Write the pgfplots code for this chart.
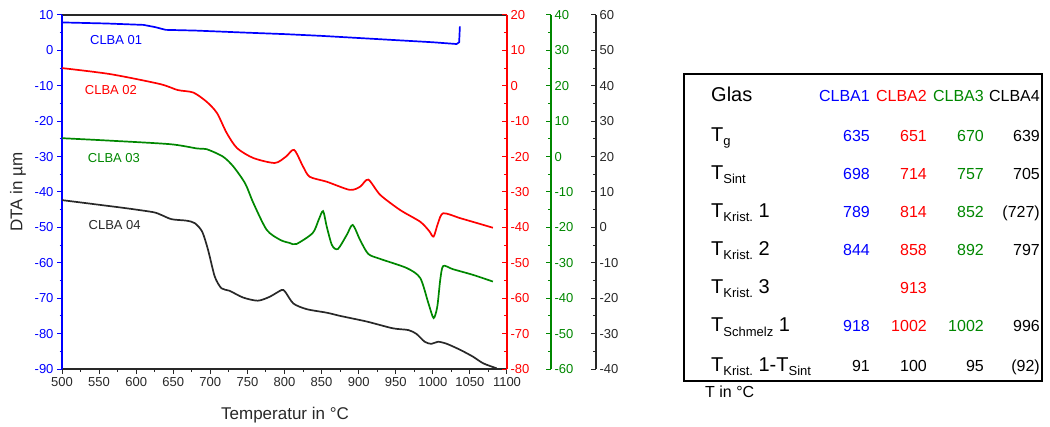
\documentclass[border=0pt]{standalone}
\usepackage{fontspec}
\setmainfont{Liberation Sans}
\usepackage{pgfplots}
\pgfplotsset{compat=1.18}
\definecolor{cblue}{RGB}{0,0,255}
\definecolor{cred}{RGB}{255,0,0}
\definecolor{cgreen}{RGB}{0,135,0}
\definecolor{cgray}{RGB}{40,40,40}
\newcommand{\sub}[1]{\raisebox{-4pt}{\fontsize{13}{13}\selectfont #1}}
\pgfplotsset{
  base/.style={scale only axis, width=445pt, height=354pt, xmin=500, xmax=1100,
    at={(62pt,57pt)}, anchor=south west,
    /pgf/number format/assume math mode=true,
    /pgf/number format/set thousands separator={},
    tick label style={font=\fontsize{13}{13}\selectfont},
    major tick length=5pt, minor tick length=2.5pt},
  rax/.style={base, axis x line=none, axis y line*=right, ytick align=inside,
    minor y tick num=1,
    y axis line style={#1, line width=1.5pt},
    every y tick/.style={#1, line width=1pt},
    yticklabel style={#1}},
}
\begin{document}
\begin{tikzpicture}[x=1pt,y=1pt]
\path[use as bounding box] (0,0) rectangle (1050,426);

% ---------- main axis (CLBA 01, left scale) ----------
\begin{axis}[base, ymin=-90, ymax=10, ytick={-90,-80,...,10},
  xtick={500,550,...,1100}, minor x tick num=1, minor y tick num=1,
  xtick pos=left, ytick pos=left, tick align=outside,
  separate axis lines,
  x axis line style={cgray, line width=1.3pt},
  y axis line style={cblue, line width=1.5pt},
  every y tick/.style={cblue, line width=1pt},
  every x tick/.style={cgray, line width=1pt},
  yticklabel style={cblue}, xticklabel style={cgray}]
\addplot[cblue, line width=1.7pt] coordinates {
 (500,7.9) (560,7.6) (610,7.2) (625,6.6) (640,5.8) (680,5.6) (750,5.0) (800,4.6)
 (850,4.1) (900,3.5) (950,2.9) (1000,2.3) (1032,1.8) (1035.5,2.3) (1036.5,6.8)};
\node[cblue, font=\fontsize{13}{13}\selectfont] at (axis cs:573,2.9) {CLBA 01};
\node[cred, font=\fontsize{13}{13}\selectfont] at (axis cs:566,-11.2) {CLBA 02};
\node[cgreen, font=\fontsize{13}{13}\selectfont] at (axis cs:570,-30.4) {CLBA 03};
\node[cgray, font=\fontsize{13}{13}\selectfont] at (axis cs:571,-49.3) {CLBA 04};
\end{axis}

% ---------- red scale (CLBA 02) ----------
\begin{axis}[rax=cred, ymin=-80, ymax=20, ytick={-80,-70,...,20}]
\addplot[cred, line width=1.7pt, smooth, tension=0.45] coordinates {
 (500,5.0) (565,3.3) (632,0.5) (656,-1.2) (677,-1.9) (695,-4.5) (709,-7.7)
 (722,-13.3) (736,-17.6) (758,-20.4) (787,-21.8) (802,-20.0) (813,-18.1)
 (825,-22.8) (834,-25.7) (857,-27.1) (888,-29.4) (902,-28.5) (913,-26.5)
 (929,-30.8) (956,-35.1) (983,-38.4) (995,-41.0) (1001,-42.6) (1007,-38.8)
 (1014,-36.0) (1037,-37.4) (1060,-38.8) (1081,-40.1)};
\end{axis}

% ---------- green data (CLBA 03) ----------
\begin{axis}[base, hide axis, ymin=-60, ymax=40]
\addplot[cgreen, line width=1.7pt, smooth, tension=0.45] coordinates {
 (500,5.2) (565,4.5) (646,3.5) (682,2.3) (695,2.1) (717,0.0) (731,-2.8)
 (747,-7.6) (758,-13.1) (776,-20.7) (794,-23.5) (807,-24.4) (816,-24.7)
 (838,-21.6) (846,-17.9) (852,-15.4) (857,-19.8) (864,-25.0) (872,-26.1)
 (884,-22.1) (892,-19.3) (902,-23.6) (913,-27.5) (929,-28.9) (965,-31.5)
 (983,-34.3) (994,-41.4) (1001,-45.6) (1006,-42.4) (1010,-34.8) (1014,-30.9)
 (1027,-31.8) (1054,-33.4) (1081,-35.3)};
\end{axis}
\begin{axis}[rax=cgreen, at={(106pt,57pt)}, ymin=-60, ymax=40, ytick={-60,-50,...,40}]
\addplot[draw=none] coordinates {(500,0)};
\end{axis}

% ---------- black data (CLBA 04) ----------
\begin{axis}[base, hide axis, ymin=-40, ymax=60]
\addplot[cgray, line width=1.7pt, smooth, tension=0.45] coordinates {
 (500,7.7) (542,6.6) (587,5.4) (623,4.3) (634,3.5) (648,2.3) (668,1.9)
 (679,1.2) (689,-1.2) (697,-6.4) (706,-13.9) (715,-17.2) (726,-17.9)
 (744,-19.8) (764,-20.7) (780,-19.6) (796,-17.7) (801,-18.2) (812,-21.5)
 (830,-23.1) (857,-24.1) (875,-25.0) (911,-26.6) (946,-28.5) (967,-29.0)
 (978,-30.1) (989,-32.3) (998,-32.9) (1007,-32.3) (1019,-32.9) (1037,-34.6)
 (1054,-36.5) (1068,-38.4) (1086,-39.8)};
\end{axis}
\begin{axis}[rax=cgray, at={(151pt,57pt)}, ymin=-40, ymax=60, ytick={-40,-30,...,60}]
\addplot[draw=none] coordinates {(500,0)};
\end{axis}

% ---------- axis titles ----------
\node[cgray, font=\fontsize{17}{17}\selectfont] at (285,11) {Temperatur in °C};
\node[cgray, font=\fontsize{17}{17}\selectfont, rotate=90] at (18,234) {DTA in µm};

% ---------- table ----------
\draw[black, line width=1.5pt] (684,352) rectangle (1042,45);
\begin{scope}[every node/.style={inner sep=0pt, font=\fontsize{16}{16}\selectfont}]
\newcommand{\rl}[2]{\node[anchor=base west, font=\fontsize{20}{20}\selectfont] at (711,426-#1) {#2};}
\rl{102}{Glas}
\rl{141.5}{T\sub{g}}
\rl{180}{T\sub{Sint}}
\rl{218}{T\sub{Krist.} 1}
\rl{256}{T\sub{Krist.} 2}
\rl{294}{T\sub{Krist.} 3}
\rl{332}{T\sub{Schmelz} 1}
\rl{371}{T\sub{Krist.} 1-T\sub{Sint}}
\node[anchor=base east, cblue] at (870,426-102) {CLBA1};
\node[anchor=base east, cred] at (927,426-102) {CLBA2};
\node[anchor=base east, cgreen] at (984,426-102) {CLBA3};
\node[anchor=base east, black] at (1040,426-102) {CLBA4};
\foreach \y/\a/\b/\c/\d in {141.5/635/651/670/639, 180/698/714/757/705,
   218/789/814/852/(727), 256/844/858/892/797, 294/{}/913/{}/{}, 332/918/1002/1002/996}{
  \node[anchor=base east, cblue] at (870,426-\y) {\a};
  \node[anchor=base east, cred] at (927,426-\y) {\b};
  \node[anchor=base east, cgreen] at (984,426-\y) {\c};
  \node[anchor=base east, black] at (1040,426-\y) {\d};
}
\node[anchor=base east] at (870,426-371) {91};
\node[anchor=base east] at (927,426-371) {100};
\node[anchor=base east] at (984,426-371) {95};
\node[anchor=base east] at (1040,426-371) {(92)};
\node[anchor=base west] at (705,426-397) {T in °C};
\end{scope}
\end{tikzpicture}
\end{document}
